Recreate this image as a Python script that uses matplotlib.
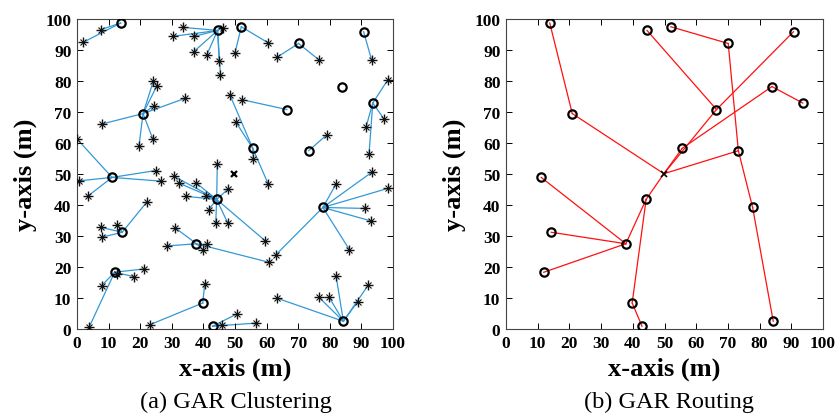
import matplotlib.pyplot as plt

# cluster heads (shared by both panels)
ch_x = [13.8, 44.5, 52.0, 70.1, 90.7, 83.9, 20.9, 66.4, 93.6, 55.6,
        73.3, 11.1, 44.2, 77.8, 14.3, 37.8, 11.9, 39.8, 42.9, 84.3]
ch_y = [98.7, 96.3, 97.5, 92.1, 95.9, 78.2, 69.5, 70.8, 72.9, 58.3,
        57.5, 48.9, 41.8, 39.2, 31.2, 27.5, 18.3, 8.4, 0.9, 2.5]
# next hop of each cluster head, -1 = base station
ch_next = [6, 7, 3, 10, 7, 9, -1, -1, 5, -1,
           -1, 15, -1, 10, 15, 12, 15, 12, 17, 13]

# base station
sink_x, sink_y = 49.8, 50.1

# member nodes and the cluster head they join
node_x = [7.6, 2.0,
          33.6, 30.3, 37.0, 46.2, 37.0, 41.0, 45.0, 45.4,
          50.0, 60.5,
          63.2, 76.6,
          93.2,
          24.2, 25.2, 24.4, 34.2, 7.8, 19.6, 24.0,
          52.1,
          48.4, 50.3, 55.8, 60.5,
          98.3, 97.2, 91.5, 92.4,
          79.0,
          0.0, 0.7, 3.6, 24.9, 26.5,
          44.4, 30.8, 32.4, 37.7, 47.9, 34.4, 40.7, 41.7, 43.9, 47.7, 59.5,
          7.6, 12.8, 7.8, 22.2,
          31.1, 28.5, 41.0, 40.0, 60.8,
          21.3, 18.0, 12.6, 7.8, 3.8,
          40.4, 23.1,
          45.8, 50.5, 56.6,
          82.0, 93.2, 98.5, 91.1, 92.9, 86.2, 63.0,
          82.0, 92.2, 88.8, 76.6, 79.8, 63.4]
node_y = [96.6, 92.5,
          97.3, 94.4, 94.4, 97.2, 89.5, 88.3, 86.3, 82.0,
          89.0, 92.3,
          87.6, 86.8,
          86.9,
          80.1, 78.3, 72.0, 74.4, 66.1, 58.9, 61.3,
          74.0,
          75.5, 66.7, 54.8, 46.8,
          80.3, 67.7, 65.3, 56.3,
          62.6,
          61.3, 47.8, 43.0, 51.1, 47.7,
          53.2, 49.2, 47.0, 47.1, 45.2, 42.8, 42.8, 38.5, 34.1, 34.2, 28.5,
          32.8, 33.6, 29.6, 41.1,
          32.6, 26.8, 27.5, 25.5, 21.5,
          19.4, 16.9, 17.7, 14.0, 0.5,
          14.5, 1.4,
          1.4, 4.8, 1.9,
          46.8, 50.5, 45.4, 38.9, 34.9, 25.6, 24.0,
          17.0, 14.2, 8.8, 10.2, 10.2, 9.9]
node_ch = [0, 0,
           1, 1, 1, 1, 1, 1, 1, 1,
           2, 2,
           3, 3,
           4,
           6, 6, 6, 6, 6, 6, 6,
           7,
           9, 9, 9, 9,
           8, 8, 8, 8,
           10,
           11, 11, 11, 11, 11,
           12, 12, 12, 12, 12, 12, 12, 12, 12, 12, 12,
           14, 14, 14, 14,
           15, 15, 15, 15, 15,
           16, 16, 16, 16, 16,
           17, 17,
           18, 18, 18,
           13, 13, 13, 13, 13, 13, 13,
           19, 19, 19, 19, 19, 19]

ticks = list(range(0, 101, 10))

plt.rcParams['font.family'] = ['Liberation Serif', 'DejaVu Serif']

fig = plt.figure(figsize=(8.38, 4.14), dpi=100)
ax1 = fig.add_axes([77 / 838, 84 / 414, 316 / 838, 310 / 414])
ax2 = fig.add_axes([506 / 838, 84 / 414, 317 / 838, 310 / 414])

# (a) clustering: members linked to their cluster head
for x, y, c in zip(node_x, node_y, node_ch):
    ax1.plot([x, ch_x[c]], [y, ch_y[c]], color='#3399d6', lw=0.9, zorder=1)
# star = plus + cross, drawn as two markers
ax1.plot(node_x, node_y, ls='none', marker='+', ms=7, mew=1.0,
         color='#111111', zorder=3)
ax1.plot(node_x, node_y, ls='none', marker='x', ms=4.5, mew=0.8,
         color='#111111', zorder=3)
ax1.plot(ch_x, ch_y, ls='none', marker='o', ms=6, mfc='none', mew=1.6,
         color='black', zorder=4)
ax1.plot(sink_x, sink_y, ls='none', marker='x', ms=5, mew=1.6,
         color='black', zorder=4)

# (b) routing: cluster heads forward towards the base station
for i in range(len(ch_x)):
    j = ch_next[i]
    tx = sink_x if j < 0 else ch_x[j]
    ty = sink_y if j < 0 else ch_y[j]
    ax2.plot([ch_x[i], tx], [ch_y[i], ty], color='#ff1010', lw=0.9, zorder=1)
ax2.plot(ch_x, ch_y, ls='none', marker='o', ms=6, mfc='none', mew=1.6,
         color='black', zorder=4)
ax2.plot(sink_x, sink_y, ls='none', marker='x', ms=4, mew=1.2,
         color='black', zorder=4)

for ax in (ax1, ax2):
    ax.set_xlim(0, 100)
    ax.set_ylim(0, 100)
    ax.set_xticks(ticks)
    ax.set_yticks(ticks)
    ax.tick_params(direction='in', top=True, right=True, length=4,
                   width=0.7, pad=4, labelsize=12.5)
    for lab in ax.get_xticklabels() + ax.get_yticklabels():
        lab.set_fontweight('bold')
    for s in ax.spines.values():
        s.set_linewidth(0.8)
        s.set_color('#444444')
    ax.set_xlabel('x-axis (m)', fontsize=19, fontweight='bold', labelpad=4)
    ax.set_ylabel('y-axis (m)', fontsize=19, fontweight='bold', labelpad=6)

fig.text(236 / 838, 1 - 402 / 414, '(a) GAR Clustering', fontsize=17.5,
         ha='center', va='center')
fig.text(669 / 838, 1 - 402 / 414, '(b) GAR Routing', fontsize=17.5,
         ha='center', va='center')

fig.savefig('out.png', dpi=100)
